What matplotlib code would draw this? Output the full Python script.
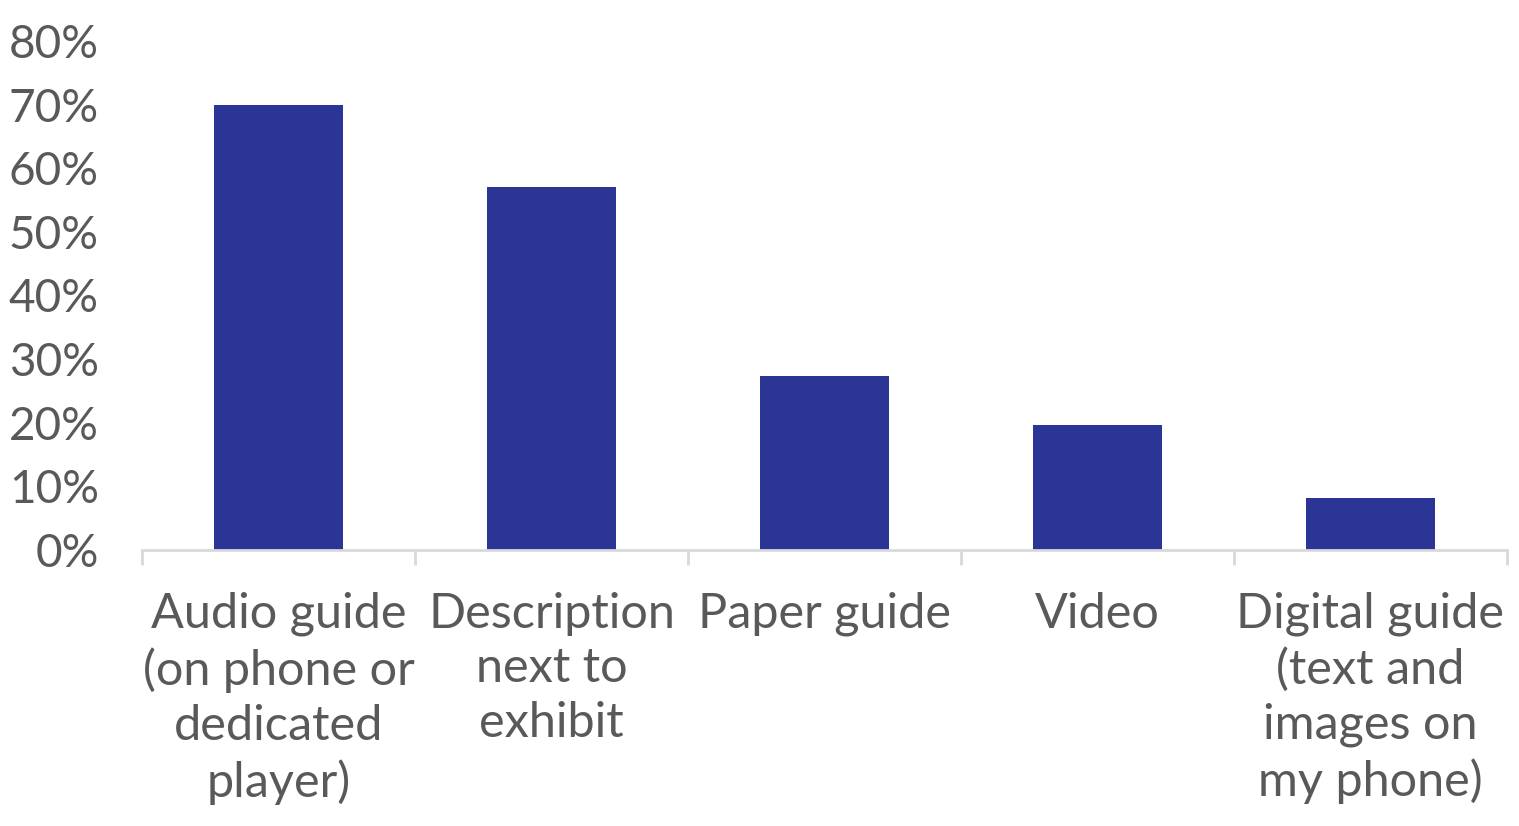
import matplotlib
matplotlib.use('Agg')
import matplotlib.pyplot as plt
from matplotlib.ticker import PercentFormatter, FixedLocator

categories = ['Audio guide\n(on phone or\ndedicated\nplayer)',
              'Description\nnext to\nexhibit',
              'Paper guide',
              'Video',
              'Digital guide\n(text and\nimages on\nmy phone)']
shares = [0.70, 0.571, 0.274, 0.197, 0.081]
yticks = [0, 0.1, 0.2, 0.3, 0.4, 0.5, 0.6, 0.7, 0.8]

plt.rcParams['font.family'] = ['Lato', 'DejaVu Sans']
text_color = '#595959'

fig = plt.figure(figsize=(15.19, 8.26), dpi=100)
ax = fig.add_axes([142/1519, (826-550)/826, 1365/1519, 509/826])

x = list(range(len(categories)))
ax.bar(x, shares, width=0.476, color='#2B3595')

ax.set_xlim(-0.5, len(categories) - 0.5)
ax.set_ylim(0, 0.8)
ax.set_yticks(yticks)
ax.yaxis.set_major_formatter(PercentFormatter(1.0, decimals=0))

ax.set_xticks(x)
ax.set_xticklabels(categories, linespacing=1.3)
ax.xaxis.set_minor_locator(FixedLocator([i - 0.5 for i in range(len(categories) + 1)]))

ax.tick_params(axis='x', which='major', length=0, pad=30, labelsize=35, labelcolor=text_color)
ax.tick_params(axis='x', which='minor', length=11, width=2, color='#d9d9d9')
ax.tick_params(axis='y', length=0, pad=31, labelsize=33, labelcolor=text_color)

for side in ['top', 'right', 'left']:
    ax.spines[side].set_visible(False)
ax.spines['bottom'].set_color('#d9d9d9')
ax.spines['bottom'].set_linewidth(2)

fig.savefig('out.png', dpi=100)
